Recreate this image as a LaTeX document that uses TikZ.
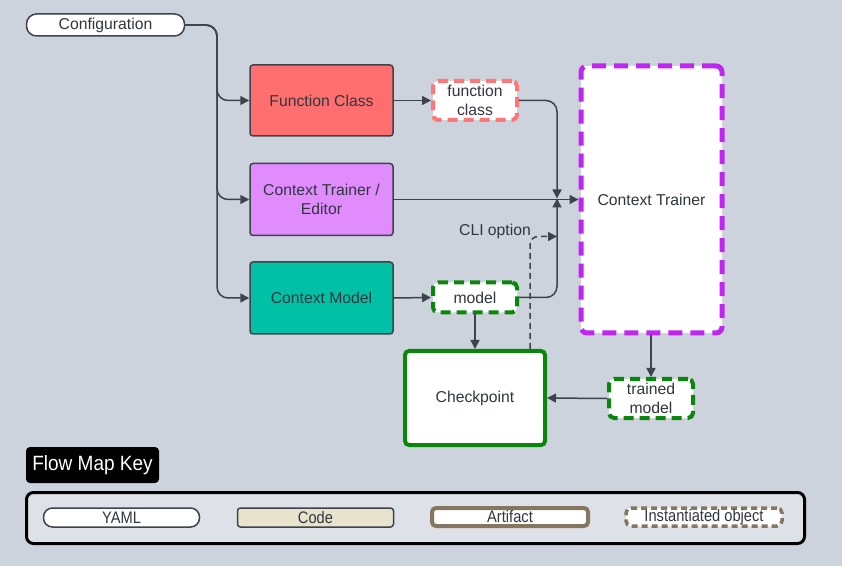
\documentclass[tikz,border=0pt]{standalone}
\usepackage{fontspec}
\setmainfont{Liberation Sans}
\newfontfamily\narrowfont[FakeStretch=0.88]{Liberation Sans}
\newfontfamily\titlefont[FakeStretch=0.92]{Liberation Sans}
\usetikzlibrary{arrows.meta}
\definecolor{bg}{RGB}{205,211,220}
\definecolor{ln}{RGB}{61,67,77}
\definecolor{fcred}{RGB}{255,111,111}
\definecolor{ctpurple}{RGB}{224,140,255}
\definecolor{cmteal}{RGB}{0,192,165}
\definecolor{pinkd}{RGB}{255,118,118}
\definecolor{greend}{RGB}{10,135,10}
\definecolor{purpled}{RGB}{192,38,242}
\definecolor{keybg}{RGB}{222,226,232}
\definecolor{codebg}{RGB}{232,227,205}
\definecolor{brownd}{RGB}{133,119,95}
\def\pu{0.75pt}
\tikzset{
  codebox/.style={draw=ln, line width=1.5*\pu, rounded corners=3*\pu, align=center, text=ln!80!black, inner sep=0pt},
  instbox/.style={fill=white, line width=4*\pu, dash pattern=on 10*\pu off 6*\pu, rounded corners=5*\pu, align=center, text=ln!80!black, inner sep=0pt},
  artbox/.style={fill=white, line width=4*\pu, rounded corners=4*\pu, align=center, text=ln!80!black, inner sep=0pt},
  pillbox/.style={fill=white, draw=ln, line width=1.5*\pu, rounded corners=10*\pu, align=center, text=ln!80!black, inner sep=0pt},
  conn/.style={draw=ln, line width=1.5*\pu, rounded corners=11*\pu, -{Triangle[length=9*\pu,width=9*\pu]}},
  lgtext/.style={font=\narrowfont\fontsize{12.5}{15}\selectfont}
}
\begin{document}
\begin{tikzpicture}[x=0.75pt,y=-0.75pt,font=\fontsize{11.8}{14.3}\selectfont]
\fill[bg] (0,0) rectangle (842,566);
\useasboundingbox (0,0) rectangle (842,566);

% nodes
\node[pillbox, minimum width=158*\pu, minimum height=22*\pu] (config) at (105.5,25) {Configuration};
\node[codebox, fill=fcred, minimum width=143*\pu, minimum height=71*\pu] (fc) at (321.5,100.5) {Function Class};
\node[codebox, fill=ctpurple, minimum width=143*\pu, minimum height=72*\pu] (cte) at (321.5,199.5) {Context Trainer /\\Editor};
\node[codebox, fill=cmteal, minimum width=143*\pu, minimum height=72*\pu] (cm) at (321.5,298) {Context Model};
\node[instbox, draw=pinkd, minimum width=84*\pu, minimum height=39*\pu] (fco) at (475,100.5) {function\\class};
\node[instbox, draw=greend, minimum width=84*\pu, minimum height=30*\pu] (mo) at (475,297.5) {model};
\node[instbox, draw=purpled, line width=5*\pu, dash pattern=on 14*\pu off 8*\pu, rounded corners=6*\pu, minimum width=141*\pu, minimum height=267*\pu] (ct) at (651.5,199.5) {Context Trainer};
\node[artbox, draw=greend, minimum width=140*\pu, minimum height=94*\pu] (ck) at (475,398) {Checkpoint};
\node[instbox, draw=greend, minimum width=84*\pu, minimum height=39*\pu] (tm) at (651,398.5) {trained\\model};
\node[text=ln!80!black, inner sep=0pt] (cli) at (495,231) {CLI option};

\coordinate (trunk) at (217,25);
\coordinate (joinA) at (557,198.5);
\coordinate (joinB) at (557,236.5);
\coordinate (clistart) at (530,349);

% connectors
\draw[conn] (config.east) -| (fc.west -| trunk) -- (fc.west);
\draw[conn] (config.east) -| (cte.west -| trunk) -- (cte.west);
\draw[conn] (config.east) -| (cm.west -| trunk) -- (cm.west);
\draw[conn] (fc.east) -- (fco.west);
\draw[conn] (cm.east) -- (mo.west);
\draw[conn] (cte.east) -- (cte.east -| ct.west);
\draw[conn] (fco.east) -| (joinA);
\draw[conn] (mo.east) -| (joinA);
\draw[conn, dash pattern=on 6*\pu off 4*\pu, rounded corners=8*\pu] (clistart) |- (joinB);
\draw[conn] (mo.south) -- (ck.north);
\draw[conn] (ct.south -| tm.north) -- (tm.north);
\draw[conn] (tm.west) -- (ck.east);

% key
\node[fill=black, rounded corners=4*\pu, minimum width=133*\pu, minimum height=36*\pu, inner sep=0pt, text=white, font=\titlefont\fontsize{15.5}{17}\selectfont] (keytitle) at (92.5,465) {Flow Map Key};
\node[draw=black, fill=keybg, line width=3*\pu, rounded corners=7*\pu, minimum width=778*\pu, minimum height=51*\pu, inner sep=0pt] (keybox) at (415.5,518) {};
\node[pillbox, lgtext, minimum width=156*\pu, minimum height=19*\pu, rounded corners=9*\pu] (kyaml) at (121.5,517.5) {YAML};
\node[codebox, lgtext, fill=codebg, minimum width=156*\pu, minimum height=19*\pu] (kcode) at (315.5,517.5) {Code};
\node[artbox, lgtext, draw=brownd, minimum width=156*\pu, minimum height=18*\pu] (kart) at (510,517) {Artifact};
\node[instbox, lgtext, draw=brownd, line width=3.5*\pu, dash pattern=on 6*\pu off 4*\pu, minimum width=156*\pu, minimum height=18*\pu] (kinst) at (704,517) {Instantiated object};
\end{tikzpicture}
\end{document}
